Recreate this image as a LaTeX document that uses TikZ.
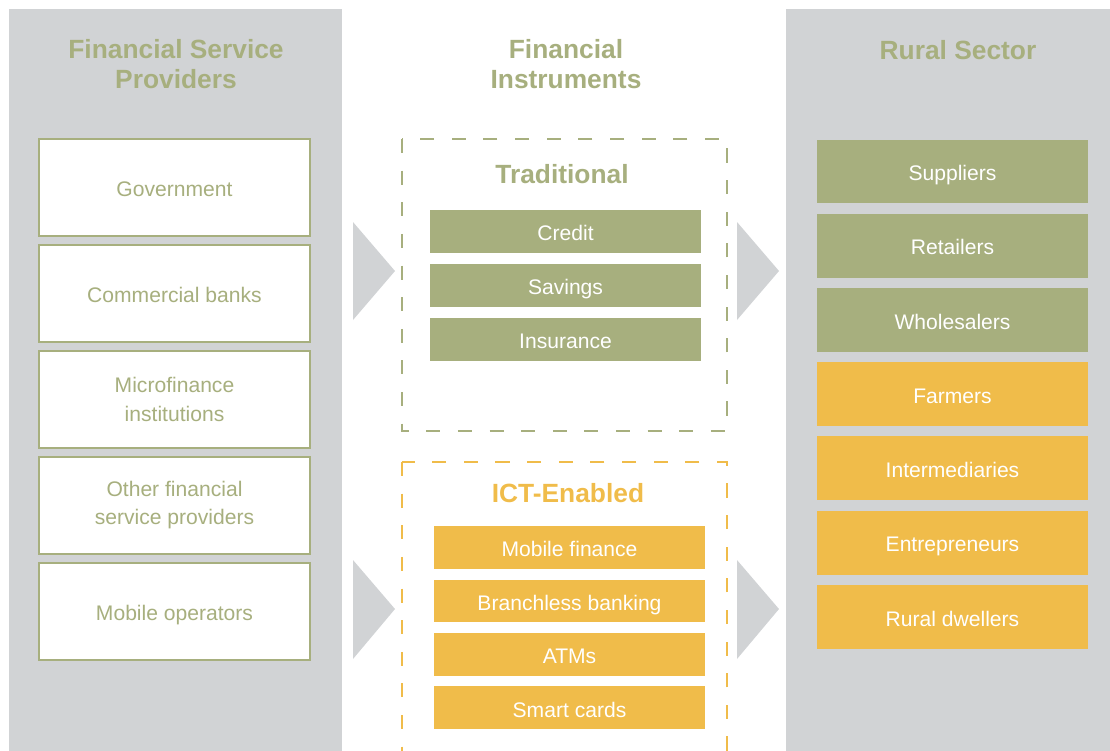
\documentclass[tikz,border=0pt]{standalone}
\usepackage{fontspec}
\setmainfont{Liberation Sans}
\usetikzlibrary{positioning}
\definecolor{panelgray}{HTML}{D1D3D5}
\definecolor{olive}{HTML}{A7AF7E}
\definecolor{amber}{HTML}{F0BC4A}

\begin{document}
\begin{tikzpicture}[x=0.02cm, y=-0.02cm,
    every text node part/.style={align=center},
    head/.style = {font=\fontsize{15}{17}\selectfont\bfseries, text=olive},
    frame/.style = {line width=0.9pt, dash pattern=on 8pt off 10pt},
    one/.style = {text height=10.5pt, text depth=0pt}
  ]
  \tikzstyle{provider}=[draw=olive, line width=0.9pt, fill=white, text=olive,
    minimum width=5.42cm, minimum height=1.94cm, font=\fontsize{12}{16}\selectfont]
  \tikzstyle{instr}=[one, fill=olive, text=white, minimum width=5.42cm, minimum height=0.86cm,
    font=\fontsize{12}{14}\selectfont]
  \tikzstyle{sector}=[one, fill=olive, text=white, minimum width=5.42cm, minimum height=1.28cm,
    font=\fontsize{12}{14}\selectfont]

  \useasboundingbox (0,0) rectangle (1110,751);

  % panels
  \fill[panelgray] (9,9) rectangle (342,751);
  \fill[panelgray] (786,9) rectangle (1110,751);
  \draw[frame, olive] (402,139) rectangle (727,431);
  \draw[frame, amber] (402,462) rectangle (727,760);

  % flow triangles
  \fill[panelgray] (353,222) -- (395,271) -- (353,320) -- cycle;
  \fill[panelgray] (353,560) -- (395,609) -- (353,659) -- cycle;
  \fill[panelgray] (737,222) -- (779,271) -- (737,320) -- cycle;
  \fill[panelgray] (737,560) -- (779,609) -- (737,659) -- cycle;

  % headings
  \node[head] (h_1) at (176,64)  {Financial Service\\Providers};
  \node[head] (h_2) at (566,64)  {Financial\\Instruments};
  \node[head] (h_3) at (958,50)  {Rural Sector};
  \node[head]               (h_4) at (562,174) {Traditional};
  \node[head, text=amber]   (h_5) at (568,493) {ICT-Enabled};

  % providers
  \begin{scope}[node distance=2.12cm]
    \node[provider, one] (p_1) at (174.5,187.5) {Government};
    \node[provider, one] (p_2) [below of=p_1]  {Commercial banks};
    \node[provider] (p_3) [below of=p_2]  {Microfinance\\institutions};
    \node[provider] (p_4) [below of=p_3]  {Other financial\\service providers};
    \node[provider, one] (p_5) [below of=p_4]  {Mobile operators};
  \end{scope}

  % instruments
  \begin{scope}[node distance=1.08cm]
    \node[instr] (t_1) at (565.5,231.5) {Credit};
    \node[instr] (t_2) [below of=t_1]   {Savings};
    \node[instr] (t_3) [below of=t_2]   {Insurance};
  \end{scope}
  \begin{scope}[node distance=1.07cm]
    \node[instr, fill=amber] (e_1) at (569.5,547.5) {Mobile finance};
    \node[instr, fill=amber] (e_2) [below of=e_1]   {Branchless banking};
    \node[instr, fill=amber] (e_3) [below of=e_2]   {ATMs};
    \node[instr, fill=amber] (e_4) [below of=e_3]   {Smart cards};
  \end{scope}

  % rural sector
  \begin{scope}[node distance=1.485cm]
    \node[sector] (r_1) at (952.5,171.5) {Suppliers};
    \node[sector] (r_2) [below of=r_1]   {Retailers};
    \node[sector] (r_3) [below of=r_2]   {Wholesalers};
    \node[sector, fill=amber] (r_4) [below of=r_3] {Farmers};
    \node[sector, fill=amber] (r_5) [below of=r_4] {Intermediaries};
    \node[sector, fill=amber] (r_6) [below of=r_5] {Entrepreneurs};
    \node[sector, fill=amber] (r_7) [below of=r_6] {Rural dwellers};
  \end{scope}
\end{tikzpicture}
\end{document}
